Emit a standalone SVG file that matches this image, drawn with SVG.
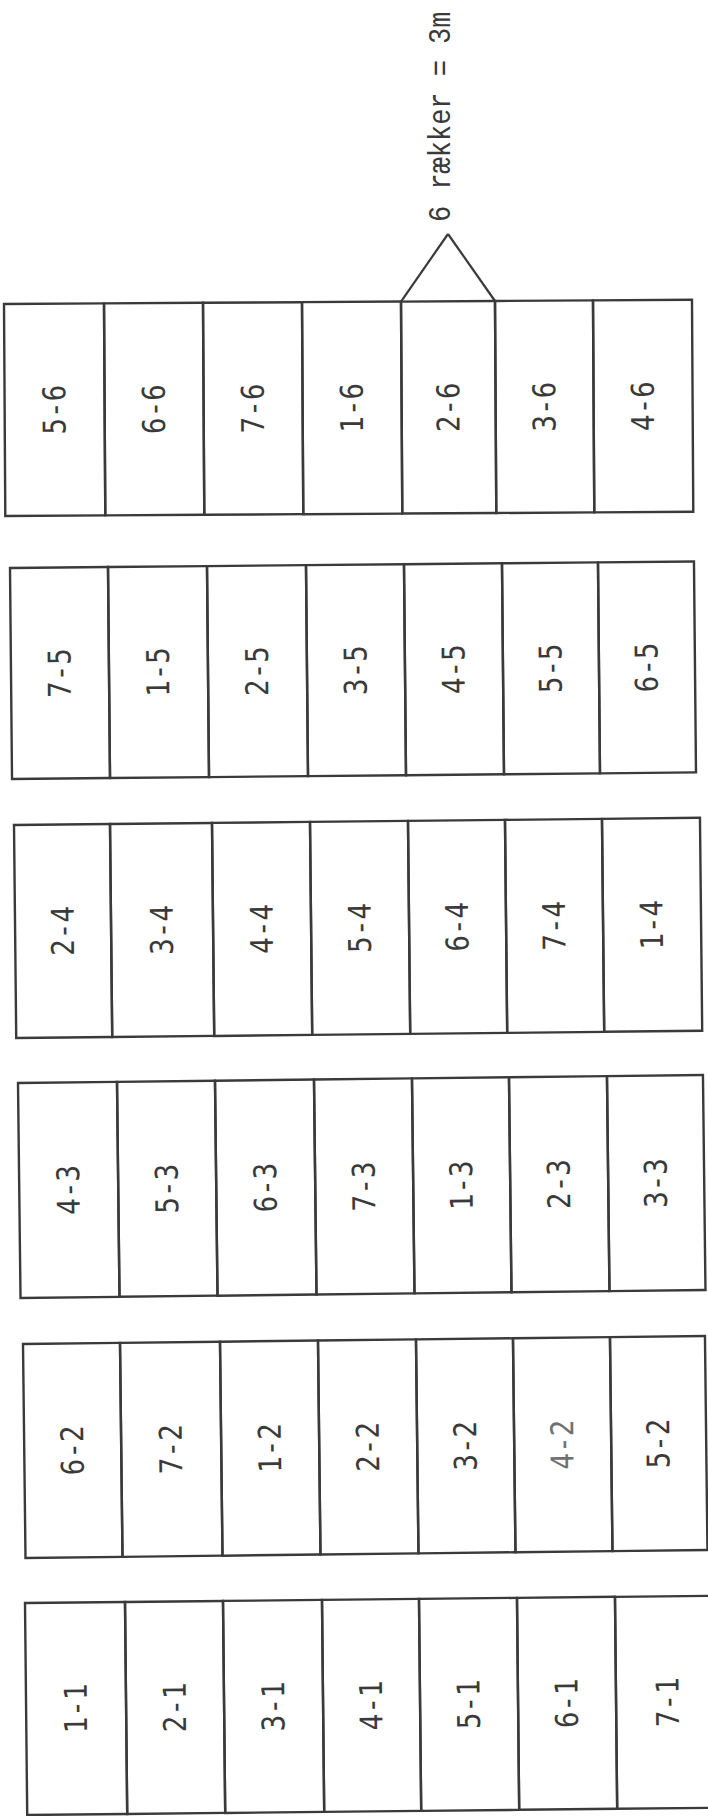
<svg xmlns="http://www.w3.org/2000/svg" width="708" height="1816" viewBox="0 0 708 1816">
<style>
.cell rect{fill:none;stroke:#3a3a3a;stroke-width:2.4}
.lbl{font-size:29px;fill:#3a3a3a;text-anchor:middle;dominant-baseline:central}
.hdr{font-size:27px;fill:#3a3a3a}
.conn line{stroke:#3a3a3a;stroke-width:2.2;fill:none}
</style>
<rect width="708" height="1816" fill="#ffffff"/>

<g id="header-label" font-family="Liberation Mono, Courier New, monospace">
<text class="hdr" transform="translate(450,222) rotate(-90) scale(1,1.15)">6 rækker = 3m</text>
</g>
<g id="connectors" class="conn">
<line x1="448" y1="234" x2="401" y2="301.6"/>
<line x1="448" y1="234" x2="495" y2="301"/>
</g>

<g id="strips" font-family="DejaVu Sans Mono, monospace">
<g id="strip-6" transform="translate(4,304) rotate(-0.35)">
<g id="cell-5-6" class="cell"><rect x="0" y="0" width="100" height="212"/><text class="lbl" transform="translate(50,106) rotate(-90) scale(0.95,1.08)">5-6</text></g>
<g id="cell-6-6" class="cell"><rect x="100" y="0" width="99" height="212"/><text class="lbl" transform="translate(149.5,106) rotate(-90) scale(0.95,1.08)">6-6</text></g>
<g id="cell-7-6" class="cell"><rect x="199" y="0" width="99" height="212"/><text class="lbl" transform="translate(248.5,106) rotate(-90) scale(0.95,1.08)">7-6</text></g>
<g id="cell-1-6" class="cell"><rect x="298" y="0" width="99" height="212"/><text class="lbl" transform="translate(347.5,106) rotate(-90) scale(0.95,1.08)">1-6</text></g>
<g id="cell-2-6" class="cell"><rect x="397" y="0" width="94" height="212"/><text class="lbl" transform="translate(444,106) rotate(-90) scale(0.95,1.08)">2-6</text></g>
<g id="cell-3-6" class="cell"><rect x="491" y="0" width="98" height="212"/><text class="lbl" transform="translate(540,106) rotate(-90) scale(0.95,1.08)">3-6</text></g>
<g id="cell-4-6" class="cell"><rect x="589" y="0" width="99" height="212"/><text class="lbl" transform="translate(638.5,106) rotate(-90) scale(0.95,1.08)">4-6</text></g>
</g>

<g id="strip-5" transform="translate(10,568) rotate(-0.55)">
<g id="cell-7-5" class="cell"><rect x="0" y="0" width="98" height="211"/><text class="lbl" transform="translate(49,105.5) rotate(-90) scale(0.95,1.08)">7-5</text></g>
<g id="cell-1-5" class="cell"><rect x="98" y="0" width="99" height="211"/><text class="lbl" transform="translate(147.5,105.5) rotate(-90) scale(0.95,1.08)">1-5</text></g>
<g id="cell-2-5" class="cell"><rect x="197" y="0" width="99" height="211"/><text class="lbl" transform="translate(246.5,105.5) rotate(-90) scale(0.95,1.08)">2-5</text></g>
<g id="cell-3-5" class="cell"><rect x="296" y="0" width="98" height="211"/><text class="lbl" transform="translate(345,105.5) rotate(-90) scale(0.95,1.08)">3-5</text></g>
<g id="cell-4-5" class="cell"><rect x="394" y="0" width="98" height="211"/><text class="lbl" transform="translate(443,105.5) rotate(-90) scale(0.95,1.08)">4-5</text></g>
<g id="cell-5-5" class="cell"><rect x="492" y="0" width="96" height="211"/><text class="lbl" transform="translate(540,105.5) rotate(-90) scale(0.95,1.08)">5-5</text></g>
<g id="cell-6-5" class="cell"><rect x="588" y="0" width="96" height="211"/><text class="lbl" transform="translate(636,105.5) rotate(-90) scale(0.95,1.08)">6-5</text></g>
</g>

<g id="strip-4" transform="translate(14,825) rotate(-0.6)">
<g id="cell-2-4" class="cell"><rect x="0" y="0" width="96" height="213"/><text class="lbl" transform="translate(48,106.5) rotate(-90) scale(0.95,1.08)">2-4</text></g>
<g id="cell-3-4" class="cell"><rect x="96" y="0" width="102" height="213"/><text class="lbl" transform="translate(147,106.5) rotate(-90) scale(0.95,1.08)">3-4</text></g>
<g id="cell-4-4" class="cell"><rect x="198" y="0" width="98" height="213"/><text class="lbl" transform="translate(247,106.5) rotate(-90) scale(0.95,1.08)">4-4</text></g>
<g id="cell-5-4" class="cell"><rect x="296" y="0" width="98" height="213"/><text class="lbl" transform="translate(345,106.5) rotate(-90) scale(0.95,1.08)">5-4</text></g>
<g id="cell-6-4" class="cell"><rect x="394" y="0" width="97" height="213"/><text class="lbl" transform="translate(442.5,106.5) rotate(-90) scale(0.95,1.08)">6-4</text></g>
<g id="cell-7-4" class="cell"><rect x="491" y="0" width="97" height="213"/><text class="lbl" transform="translate(539.5,106.5) rotate(-90) scale(0.95,1.08)">7-4</text></g>
<g id="cell-1-4" class="cell"><rect x="588" y="0" width="98" height="213"/><text class="lbl" transform="translate(637,106.5) rotate(-90) scale(0.95,1.08)">1-4</text></g>
</g>

<g id="strip-3" transform="translate(18,1083) rotate(-0.67)">
<g id="cell-4-3" class="cell"><rect x="0" y="0" width="99" height="215"/><text class="lbl" transform="translate(49.5,107.5) rotate(-90) scale(0.95,1.08)">4-3</text></g>
<g id="cell-5-3" class="cell"><rect x="99" y="0" width="98" height="215"/><text class="lbl" transform="translate(148,107.5) rotate(-90) scale(0.95,1.08)">5-3</text></g>
<g id="cell-6-3" class="cell"><rect x="197" y="0" width="99" height="215"/><text class="lbl" transform="translate(246.5,107.5) rotate(-90) scale(0.95,1.08)">6-3</text></g>
<g id="cell-7-3" class="cell"><rect x="296" y="0" width="98" height="215"/><text class="lbl" transform="translate(345,107.5) rotate(-90) scale(0.95,1.08)">7-3</text></g>
<g id="cell-1-3" class="cell"><rect x="394" y="0" width="97" height="215"/><text class="lbl" transform="translate(442.5,107.5) rotate(-90) scale(0.95,1.08)">1-3</text></g>
<g id="cell-2-3" class="cell"><rect x="491" y="0" width="98" height="215"/><text class="lbl" transform="translate(540,107.5) rotate(-90) scale(0.95,1.08)">2-3</text></g>
<g id="cell-3-3" class="cell"><rect x="589" y="0" width="96" height="215"/><text class="lbl" transform="translate(637,107.5) rotate(-90) scale(0.95,1.08)">3-3</text></g>
</g>

<g id="strip-2" transform="translate(23,1344) rotate(-0.67)">
<g id="cell-6-2" class="cell"><rect x="0" y="0" width="97" height="214"/><text class="lbl" transform="translate(48.5,107) rotate(-90) scale(0.95,1.08)">6-2</text></g>
<g id="cell-7-2" class="cell"><rect x="97" y="0" width="100" height="214"/><text class="lbl" transform="translate(147,107) rotate(-90) scale(0.95,1.08)">7-2</text></g>
<g id="cell-1-2" class="cell"><rect x="197" y="0" width="98" height="214"/><text class="lbl" transform="translate(246,107) rotate(-90) scale(0.95,1.08)">1-2</text></g>
<g id="cell-2-2" class="cell"><rect x="295" y="0" width="98" height="214"/><text class="lbl" transform="translate(344,107) rotate(-90) scale(0.95,1.08)">2-2</text></g>
<g id="cell-3-2" class="cell"><rect x="393" y="0" width="97" height="214"/><text class="lbl" transform="translate(441.5,107) rotate(-90) scale(0.95,1.08)">3-2</text></g>
<g id="cell-4-2" class="cell"><rect x="490" y="0" width="97" height="214"/><text class="lbl" transform="translate(538.5,107) rotate(-90) scale(0.95,1.08)" style="fill:#707070">4-2</text></g>
<g id="cell-5-2" class="cell"><rect x="587" y="0" width="95" height="214"/><text class="lbl" transform="translate(634.5,107) rotate(-90) scale(0.95,1.08)">5-2</text></g>
</g>

<g id="strip-1" transform="translate(25,1603) rotate(-0.6)">
<g id="cell-1-1" class="cell"><rect x="0" y="0" width="100" height="212"/><text class="lbl" transform="translate(50,106) rotate(-90) scale(0.95,1.08)">1-1</text></g>
<g id="cell-2-1" class="cell"><rect x="100" y="0" width="98" height="212"/><text class="lbl" transform="translate(149,106) rotate(-90) scale(0.95,1.08)">2-1</text></g>
<g id="cell-3-1" class="cell"><rect x="198" y="0" width="99" height="212"/><text class="lbl" transform="translate(247.5,106) rotate(-90) scale(0.95,1.08)">3-1</text></g>
<g id="cell-4-1" class="cell"><rect x="297" y="0" width="97" height="212"/><text class="lbl" transform="translate(345.5,106) rotate(-90) scale(0.95,1.08)">4-1</text></g>
<g id="cell-5-1" class="cell"><rect x="394" y="0" width="98" height="212"/><text class="lbl" transform="translate(443,106) rotate(-90) scale(0.95,1.08)">5-1</text></g>
<g id="cell-6-1" class="cell"><rect x="492" y="0" width="98" height="212"/><text class="lbl" transform="translate(541,106) rotate(-90) scale(0.95,1.08)">6-1</text></g>
<g id="cell-7-1" class="cell"><rect x="590" y="0" width="110" height="212"/><text class="lbl" transform="translate(642,106) rotate(-90) scale(0.95,1.08)">7-1</text></g>
</g>
</g>
</svg>
